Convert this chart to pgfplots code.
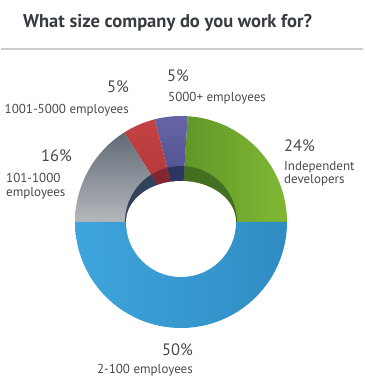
\documentclass[border=0pt]{standalone}
\usepackage{fontspec}
\setmainfont{PT Sans}
\usepackage{pgfplots}
\usepackage{pgfplotstable}
\pgfplotsset{compat=1.18}

\definecolor{txt}{RGB}{72,74,78}
\definecolor{ttl}{RGB}{55,60,66}
\definecolor{rule}{RGB}{205,205,205}
\definecolor{grnA}{RGB}{96,150,40}
\definecolor{grnB}{RGB}{128,184,52}
\definecolor{grnD}{RGB}{68,110,32}
\definecolor{bluA}{RGB}{62,165,220}
\definecolor{bluB}{RGB}{48,140,195}
\definecolor{gryA}{RGB}{96,106,118}
\definecolor{gryB}{RGB}{182,184,188}
\definecolor{gryD}{RGB}{50,66,92}
\definecolor{redA}{RGB}{196,66,66}
\definecolor{redB}{RGB}{170,50,55}
\definecolor{redD}{RGB}{130,38,50}
\definecolor{purA}{RGB}{102,100,165}
\definecolor{purB}{RGB}{70,72,130}
\definecolor{purD}{RGB}{44,54,98}

% share of respondents, counter-clockwise from the right-hand horizontal
\pgfplotstableread{
segment value
Independent 24
5000plus 5
1001to5000 5
101to1000 16
2to100 50
}\piedata

\pgfplotstablegetelem{0}{value}\of\piedata \edef\vA{\pgfplotsretval}
\pgfplotstablegetelem{1}{value}\of\piedata \edef\vB{\pgfplotsretval}
\pgfplotstablegetelem{2}{value}\of\piedata \edef\vC{\pgfplotsretval}
\pgfplotstablegetelem{3}{value}\of\piedata \edef\vD{\pgfplotsretval}
\pgfplotstablegetelem{4}{value}\of\piedata \edef\vE{\pgfplotsretval}
\pgfmathsetmacro\aA{0}
\pgfmathsetmacro\aB{\aA+3.6*\vA}
\pgfmathsetmacro\aC{\aB+3.6*\vB}
\pgfmathsetmacro\aD{\aC+3.6*\vC}
\pgfmathsetmacro\aE{\aD+3.6*\vD}
\pgfmathsetmacro\aF{\aE+3.6*\vE}

\def\cx{180}
\def\cy{160}
\def\R{106}
\def\r{56}

\newcommand\pieslice[4]{% style, start, end, radius
  \path[#1] (axis cs:\cx,\cy) -- (axis cs:{\cx+#4*cos(#2)},{\cy+#4*sin(#2)})
    arc[start angle=#2, end angle=#3, radius=#4pt] -- cycle;}

\begin{document}
\begin{tikzpicture}
\begin{axis}[
  scale only axis, width=362pt, height=382pt,
  xmin=0, xmax=362, ymin=0, ymax=382,
  hide axis, clip=false,
]
\addplot[draw=none] coordinates {(0,0) (362,382)};

% outer ring
\pieslice{left color=grnA, right color=grnB}{\aA}{\aB}{\R}
\pieslice{top color=purA, bottom color=purB}{\aB}{\aC}{\R}
\pieslice{top color=redA, bottom color=redB}{\aC}{\aD}{\R}
\pieslice{top color=gryA, bottom color=gryB}{\aD}{\aE}{\R}
\pieslice{left color=bluA, right color=bluB}{\aE}{\aF}{\R}

% inner wall (upper half)
\pieslice{fill=grnD}{\aA}{\aB}{\r}
\pieslice{fill=purD}{\aB}{\aC}{\r}
\pieslice{fill=redD}{\aC}{\aD}{\r}
\pieslice{fill=gryD}{\aD}{\aE}{\r}

% hole
\fill[white] (axis cs:{\cx+55},\cy) arc[start angle=0, end angle=180, x radius=55pt, y radius=41pt]
  arc[start angle=180, end angle=360, radius=55pt] -- cycle;

% title and rule
\node[anchor=base west, text=ttl, font=\fontsize{18.5}{20}\selectfont\bfseries, inner sep=0pt]
  at (axis cs:22,354) {What size company do you work for?};
\draw[rule, line width=2pt] (axis cs:0,333) -- (axis cs:362,333);

% labels
\def\pc{\fontsize{16.5}{16.5}\selectfont}
\def\lb{\fontsize{13}{14}\selectfont}
\node[anchor=base west, text=txt, font=\pc, inner sep=0pt] at (axis cs:166,300) {5\%};
\node[anchor=base west, text=txt, font=\lb, inner sep=0pt] at (axis cs:167,280) {5000+ employees};
\node[anchor=base east, text=txt, font=\pc, inner sep=0pt] at (axis cs:128,289) {5\%};
\node[anchor=base east, text=txt, font=\lb, inner sep=0pt] at (axis cs:128,268) {1001-5000 employees};
\node[anchor=base east, text=txt, font=\pc, inner sep=0pt] at (axis cs:71,220) {16\%};
\node[anchor=base west, text=txt, font=\lb, inner sep=0pt] at (axis cs:5,199) {101-1000};
\node[anchor=base west, text=txt, font=\lb, inner sep=0pt] at (axis cs:5,185) {employees};
\node[anchor=base west, text=txt, font=\pc, inner sep=0pt] at (axis cs:283,230) {24\%};
\node[anchor=base west, text=txt, font=\lb, inner sep=0pt] at (axis cs:283,211) {Independent};
\node[anchor=base west, text=txt, font=\lb, inner sep=0pt] at (axis cs:283,198) {developers};
\node[anchor=base east, text=txt, font=\pc, inner sep=0pt] at (axis cs:192,26) {50\%};
\node[anchor=base east, text=txt, font=\lb, inner sep=0pt] at (axis cs:192,9) {2-100 employees};
\end{axis}
\end{tikzpicture}
\end{document}
